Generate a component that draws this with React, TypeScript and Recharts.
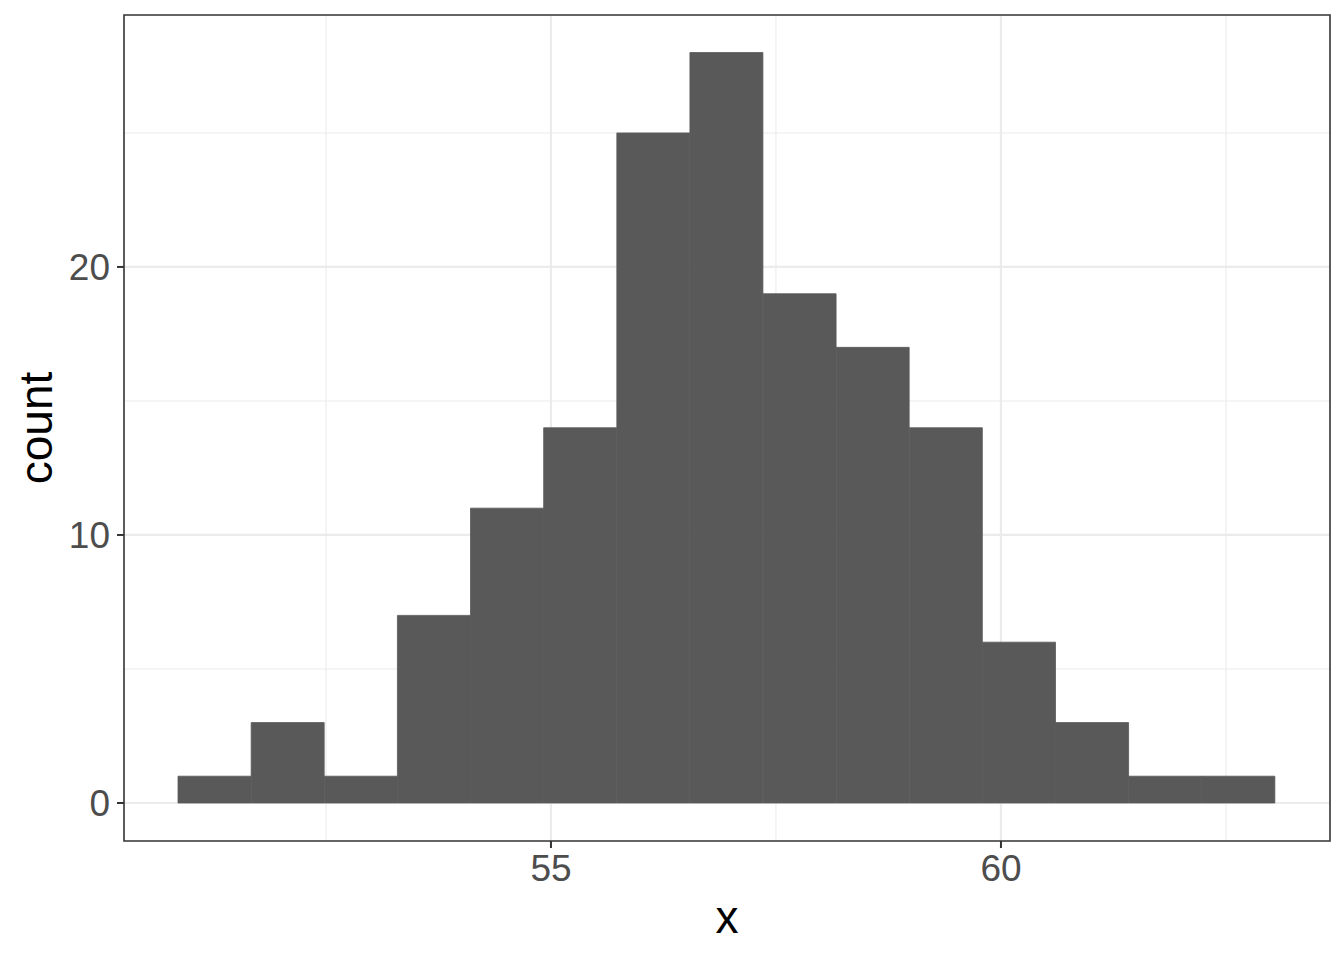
import { Bar, CartesianGrid, ComposedChart, Label, ReferenceArea, XAxis, YAxis } from "recharts";

// histogram bins (centres) and counts
const binCenters = [51.262, 52.075, 52.887, 53.7, 54.512, 55.325, 56.138, 56.95, 57.763, 58.575, 59.388, 60.201, 61.013, 61.826, 62.638];
const counts = [1, 3, 1, 7, 11, 14, 25, 28, 19, 17, 14, 6, 3, 1, 1];

const xTicks = [55, 60];
const xMinor = [52.5, 57.5, 62.5];
const yTicks = [0, 10, 20];
const yMinor = [5, 15, 25];
const xDomain: [number, number] = [50.256, 63.656];
const yDomain: [number, number] = [-1.418, 29.4];

const data = binCenters.map((x, i) => ({ x, count: counts[i] }));

const font = "'Liberation Sans', Arial, Helvetica, sans-serif";
const tickStyle = { fontSize: 37, fill: "#4D4D4D", fontFamily: font };

export default function App() {
  return (
    <div style={{ position: "absolute", left: 0, top: 0, width: 1344, height: 960, background: "#fff" }}>
      <ComposedChart
        width={1344}
        height={960}
        data={data}
        barCategoryGap={0}
        barGap={0}
        margin={{ top: 15, right: 14, bottom: 0, left: 0 }}
      >
        <CartesianGrid stroke="#EBEBEB" strokeWidth={1.1} horizontalValues={yMinor} verticalValues={xMinor} />
        <CartesianGrid stroke="#EBEBEB" strokeWidth={2.2} horizontalValues={yTicks} verticalValues={xTicks} />
        <XAxis
          dataKey="x"
          type="number"
          domain={xDomain}
          ticks={xTicks}
          allowDataOverflow
          height={119}
          axisLine={false}
          tickLine={{ stroke: "#333333", strokeWidth: 2 }}
          tickSize={7}
          tickMargin={7}
          tick={tickStyle}
        >
          <Label
            content={() => (
              <text x={727} y={933} textAnchor="middle" fontSize={46} fontFamily={font} fill="#000">
                x
              </text>
            )}
          />
        </XAxis>
        <YAxis
          type="number"
          domain={yDomain}
          ticks={yTicks}
          allowDataOverflow
          width={124}
          axisLine={false}
          tickLine={{ stroke: "#333333", strokeWidth: 2 }}
          tickSize={7}
          tickMargin={7}
          tick={tickStyle}
        >
          <Label
            content={() => (
              <text
                x={52}
                y={428}
                transform="rotate(-90 52 428)"
                textAnchor="middle"
                fontSize={46}
                fontFamily={font}
                fill="#000"
              >
                count
              </text>
            )}
          />
        </YAxis>
        <Bar dataKey="count" fill="#595959" stroke="#595959" strokeWidth={0.8} isAnimationActive={false} />
        <ReferenceArea
          x1={xDomain[0]}
          x2={xDomain[1]}
          y1={yDomain[0]}
          y2={yDomain[1]}
          fill="none"
          fillOpacity={0}
          stroke="#333333"
          strokeWidth={1.6}
          ifOverflow="visible"
        />
      </ComposedChart>
    </div>
  );
}
